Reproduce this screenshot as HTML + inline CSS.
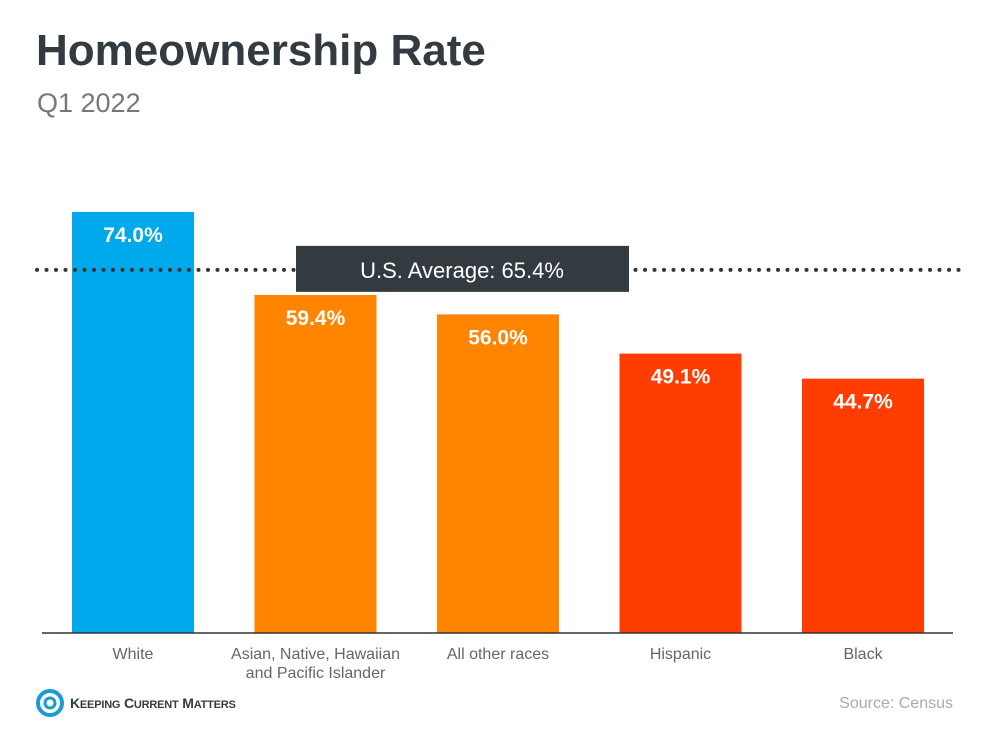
<!DOCTYPE html>
<html><head><meta charset="utf-8">
<style>
body{margin:0;width:986px;height:731px;background:#fff;font-family:"Liberation Sans",sans-serif;overflow:hidden;position:relative}
.t{position:absolute;left:36px;top:26px;font-size:44px;font-weight:bold;color:#333a40;margin:0}
.s{position:absolute;left:37px;top:88px;font-size:27px;color:#777}
</style></head><body>
<h1 class="t">Homeownership Rate</h1>
<div class="s">Q1 2022</div>
<svg id="c" width="986" height="731" style="position:absolute;left:0;top:0"></svg>
<div style="position:absolute;left:36px;top:689px;display:flex;align-items:center">
<svg width="28" height="28" viewBox="0 0 28 28"><circle cx="14" cy="14" r="12" fill="none" stroke="#1a9ad6" stroke-width="4"/><circle cx="14" cy="14" r="5" fill="none" stroke="#1a9ad6" stroke-width="3"/></svg>
<span style="margin-left:6px;font-size:14px;font-weight:bold;color:#333a48;letter-spacing:-0.2px">K<span style="font-size:11px">EEPING</span> C<span style="font-size:11px">URRENT</span> M<span style="font-size:11px">ATTERS</span></span></div>
<div style="position:absolute;right:33px;top:695px;font-size:16px;color:#aaa">Source: Census</div>
<script>
const categories=["White","Asian, Native, Hawaiian|and Pacific Islander","All other races","Hispanic","Black"];
const values=[74.0,59.4,56.0,49.1,44.7];
const colors=["#00a8ec","#ff8500","#ff8500","#ff3d00","#ff3d00"];
const average=65.4;
const svg=document.getElementById('c');const NS='http://www.w3.org/2000/svg';
const base=633,k=5.69,x0=72,step=182.5,bw=122,avgOffset=9;
const y=v=>base-v*k;
function mk(t,a,txt){const e=document.createElementNS(NS,t);for(const n in a)e.setAttribute(n,a[n]);if(txt!=null)e.textContent=txt;svg.appendChild(e);return e;}
values.forEach((v,i)=>{
 const x=x0+i*step;
 const r=mk('rect',{x:x,y:y(v),width:bw,height:v*k,fill:colors[i]});
 
 
 const l=mk('text',{x:x+bw/2,y:y(v)+30,'text-anchor':'middle','font-size':21,'font-weight':'bold',fill:'#fff'},v.toFixed(1)+'%');
 
 
 categories[i].split('|').forEach((s,j)=>{
  const c=mk('text',{x:x+bw/2,y:659+j*19,'text-anchor':'middle','font-size':16,fill:'#666'},s);
  
  
 });
});
const ax=mk('line',{x1:42,x2:953,y1:base,y2:base,stroke:'#333','stroke-width':1.5});


const ay=y(average)+avgOffset;
const dl=mk('line',{x1:37,x2:965,y1:ay,y2:ay,stroke:'#333','stroke-width':4,'stroke-dasharray':'0 9.5','stroke-linecap':'round'});


const bx=mk('rect',{x:296,y:ay-24,width:333,height:46,fill:'#333a40'});


const bt=mk('text',{x:462,y:ay+8,'text-anchor':'middle','font-size':22,fill:'#fff'},'U.S. Average: '+average.toFixed(1)+'%');


</script>
</body></html>
